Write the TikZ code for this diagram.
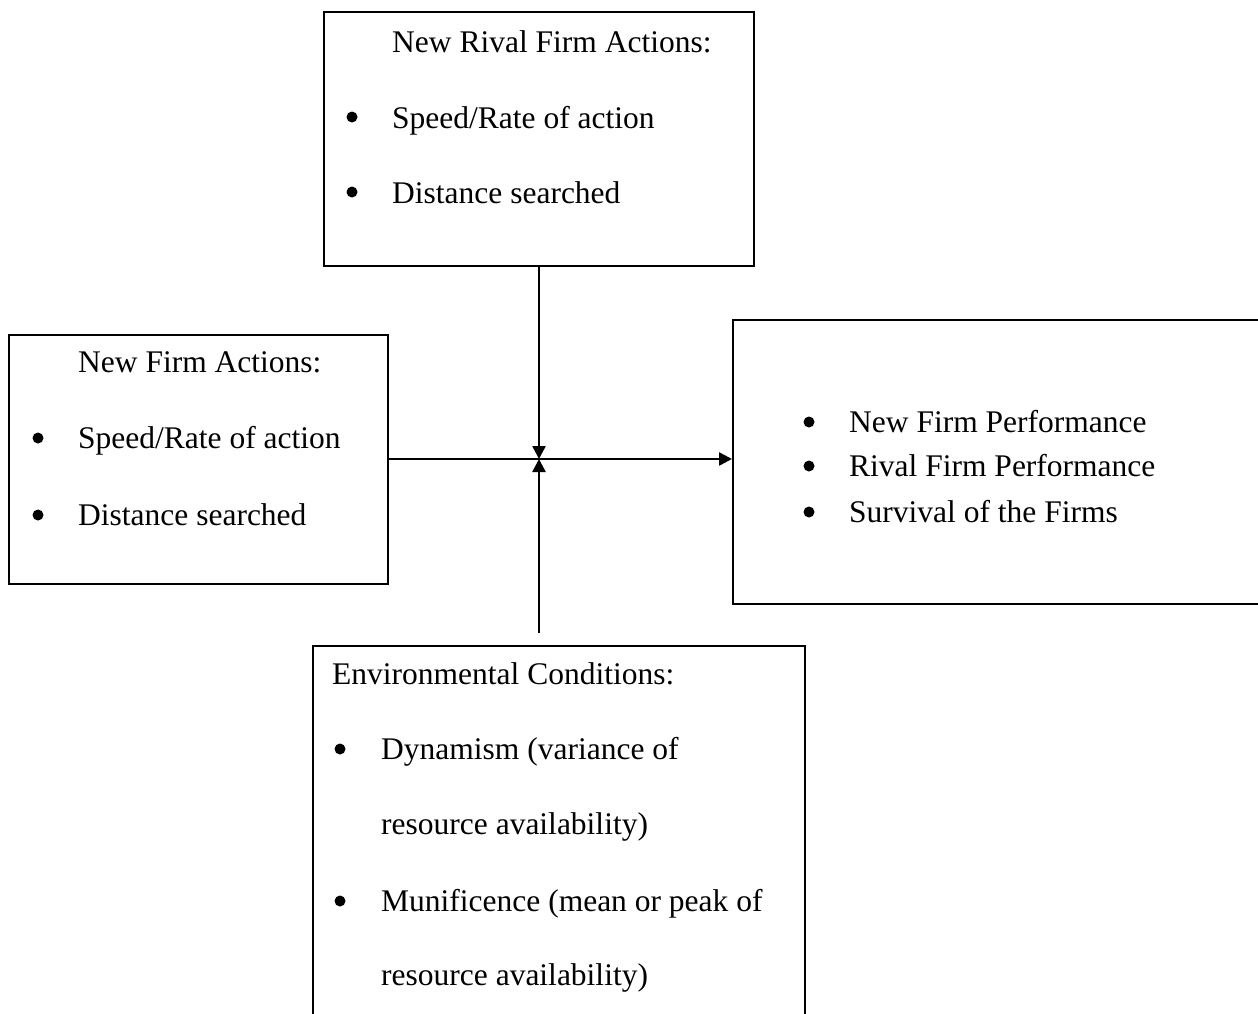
\documentclass[tikz,border=0pt]{standalone}
\usepackage{fontspec}
\setmainfont{Liberation Serif}
\usetikzlibrary{arrows.meta}
\begin{document}
\begin{tikzpicture}[x=1pt,y=-1pt,
  box/.style={draw=black, line width=2pt, rectangle, inner sep=0pt, fill=none},
  txt/.style={anchor=base west, inner sep=0pt, font=\fontsize{31.5}{37}\selectfont},
  dot/.style={circle, fill=black, inner sep=0pt, minimum size=11pt},
  conn/.style={line width=2.5pt, -{Triangle[length=13pt,width=13pt]}}]
\useasboundingbox (0,0) rectangle (1258,1013);
\clip (0,0) rectangle (1258,1013);
\fill[white] (0,0) rectangle (1258,1013);

% boxes
\node[box, minimum width=430pt, minimum height=254pt] (top) at (539,139) {};
\node[box, minimum width=379pt, minimum height=249pt] (left) at (198.5,459.5) {};
\node[box, minimum width=529pt, minimum height=284pt] (right) at (997.5,462) {};
\node[box, minimum width=492pt, minimum height=384pt] (bottom) at (559,838) {};

% top box text
\node[txt] (t0) at (392,52) {New Rival Firm Actions:};
\node[dot] (tb1) at (352,117) {};
\node[txt] (t1) at (392,128) {Speed/Rate of action};
\node[dot] (tb2) at (352,192) {};
\node[txt] (t2) at (392,203) {Distance searched};

% left box text
\node[txt] (l0) at (78,372) {New Firm Actions:};
\node[dot] (lb1) at (38,438) {};
\node[txt] (l1) at (78,448) {Speed/Rate of action};
\node[dot] (lb2) at (38,515) {};
\node[txt] (l2) at (78,525) {Distance searched};

% right box text
\node[dot] (rb1) at (809,422) {};
\node[txt] (r1) at (849,432) {New Firm Performance};
\node[dot] (rb2) at (809,466) {};
\node[txt] (r2) at (849,476) {Rival Firm Performance};
\node[dot] (rb3) at (809,512) {};
\node[txt] (r3) at (849,522) {Survival of the Firms};

% bottom box text
\node[txt] (b0) at (332,684) {Environmental Conditions:};
\node[dot] (bb1) at (340,749) {};
\node[txt] (b1) at (381,759) {Dynamism (variance of};
\node[txt] (b2) at (381,834) {resource availability)};
\node[dot] (bb2) at (340,901) {};
\node[txt] (b3) at (381,911) {Munificence (mean or peak of};
\node[txt] (b4) at (381,985) {resource availability)};

% connectors
\coordinate (j) at (539,459);
\coordinate (bs) at (539,633);
\draw[conn] (top.south) -- (j);
\draw[conn] (bs) -- (j);
\draw[conn] (left.east |- j) -- (j -| right.west);
\end{tikzpicture}
\end{document}
